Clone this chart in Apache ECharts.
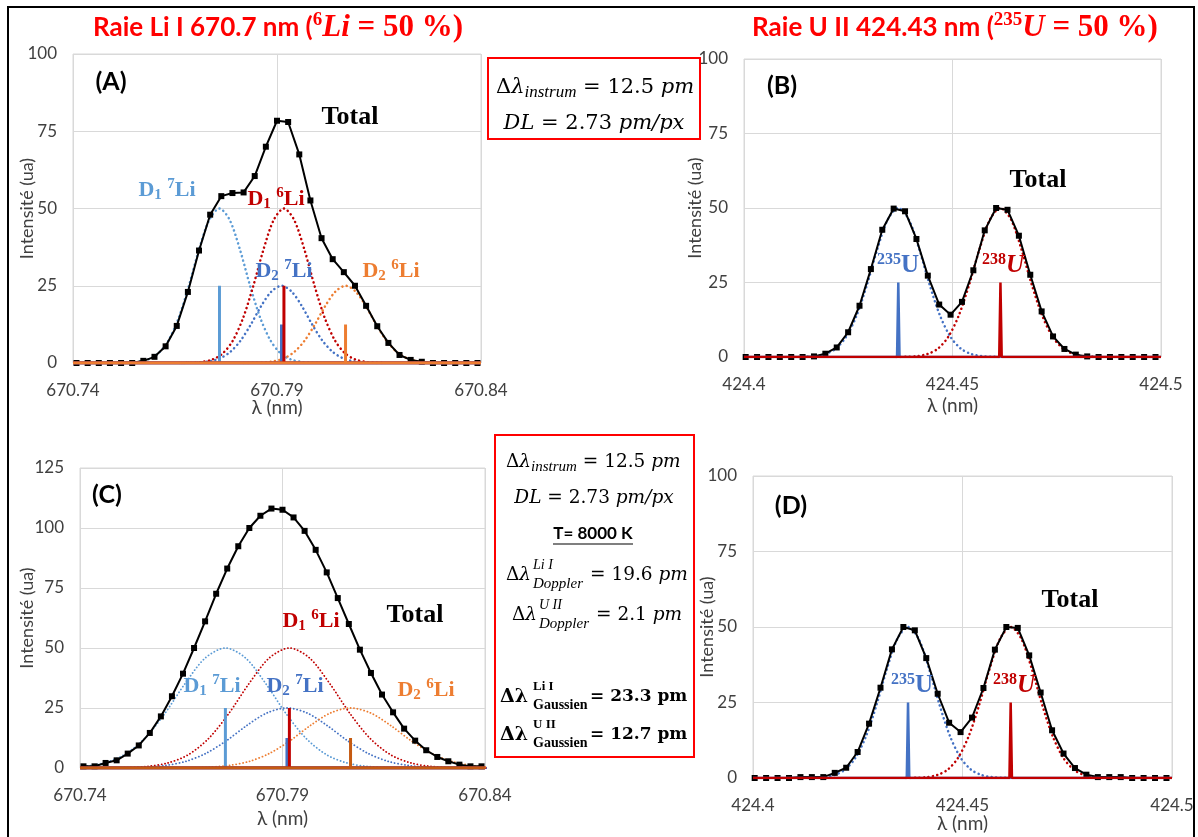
<!DOCTYPE html>
<html><head><meta charset="utf-8">
<script src="https://cdn.jsdelivr.net/npm/echarts@6/dist/echarts.min.js"></script>
<style>html,body{margin:0;padding:0;background:#fff}#c{width:1198px;height:837px}</style>
</head><body><div id="c"></div>
<script>
// ================= DATA =================
const DL_pm = 2.73;              // sampling step of the "Total" curves (pm)
const liStart = 670.74086;       // first sample (nm), Li panels
const uStart = 424.40040;        // first sample (nm), U panels
const liXRange = [670.74, 670.84, 0.05];
const uXRange = [424.4, 424.5, 0.05];
const yRangeA = [0, 100, 25];
const yRangeB = [0, 100, 25];
const yRangeC = [0, 125, 25];
const yRangeD = [0, 100, 25];

// Total (sampled) curves
const totalA = [0,0,0,0,0,0,0.7,2,5.4,12,23,36.4,48,54,55,55.2,60.5,70,78.4,78,67.5,52.6,40.4,33.6,29.4,25,18.5,11.9,6.5,2.6,1,0.4,0,0,0,0,0];
const totalB = [0,0,0,0,0,0,0.2,1.1,3.2,8.3,17.2,29.5,42.7,49.8,48.9,39.6,27.3,17.6,14.2,18.5,29.1,42.5,50,49.4,40.7,27.6,15.3,6.9,2.7,0.8,0.2,0,0,0,0,0,0];
const totalC = [0.7,0.7,2.1,3.2,6,9.4,14.6,21.5,29.9,39.3,50,61.1,72.6,83.1,92.4,100,105.1,108.1,107.6,104.4,98.8,90.9,81.5,70.8,60,49.3,39.6,30.6,23.2,16.4,11.4,7.4,4.6,2.8,1.4,0.7,0.7];
const totalD = [0,0,0,0,0.3,0.3,0.3,1.7,3.4,8.6,18,29.9,42.6,50,48.9,39.7,27.9,18.3,15.2,20,29.8,42.5,50,49.7,40.6,28.3,15.8,8.1,3.3,1.1,0.3,0.3,0.3,0,0,0,0];

// Li components: D1 7Li, D2 7Li, D1 6Li, D2 6Li
const liCenters = [670.7759, 670.7911, 670.7917, 670.8068];
const liSticks = [25, 12.5, 25, 12.5];
// U components: 235U, 238U
const uCenters = [424.4370, 424.4615];
const uSticks = [25, 25];

// component profiles (offset from centre in pm -> intensity)
const offsNarrow = [-25,-22.5,-20,-17.5,-15,-12.5,-10,-7.5,-5,-2.5,0,2.5,5,7.5,10,12.5,15,17.5,20,22.5,25];
const profA50 = [0.03,0.1,0.36,1.15,3.1,7.3,14.6,25,36.8,46.3,50,46.3,36.8,25,14.6,7.3,3.1,1.15,0.36,0.1,0.03];
const profA25 = [0.01,0.05,0.18,0.58,1.56,3.65,7.3,12.5,18.4,23.1,25,23.1,18.4,12.5,7.3,3.65,1.56,0.58,0.18,0.05,0.01];
const profU50 = [0.02,0.08,0.3,1.0,2.8,6.8,13.9,24.3,36.3,46.2,50,46.2,36.3,24.3,13.9,6.8,2.8,1.0,0.3,0.08,0.02];
const offsWide = [-50,-45,-40,-35,-30,-25,-20,-15,-10,-5,0,5,10,15,20,25,30,35,40,45,50];
const profC50 = [0.01,0.04,0.18,0.66,2.1,5.5,12.2,22.6,35.1,45.8,50,45.8,35.1,22.6,12.2,5.5,2.1,0.66,0.18,0.04,0.01];
const profC25 = [0,0.02,0.09,0.33,1.04,2.75,6.1,11.3,17.6,22.9,25,22.9,17.6,11.3,6.1,2.75,1.04,0.33,0.09,0.02,0];

// ================= STYLE =================
const C_LB = '#5B9BD5', C_DB = '#4472C4', C_RED = '#C00000', C_OR = '#ED7D31', C_ORD = '#C55A11';
const TXT = '#404040';

const grids = [
  {left:73, top:54, width:408, height:309},
  {left:744, top:59, width:417, height:298},
  {left:80, top:468, width:405, height:300},
  {left:753, top:476, width:419, height:302}
].map(g => Object.assign(g, {show:true, borderColor:'#D9D9D9', borderWidth:1, backgroundColor:'transparent'}));

function fmt(v){ return String(+v.toFixed(2)); }
function xAx(gi, r, gap){
  return {type:'value', gridIndex:gi, min:r[0], max:r[1], interval:r[2],
    name:'λ (nm)', nameLocation:'middle', nameGap:gap, nameMoveOverlap:false,
    nameTextStyle:{fontFamily:'Lato', fontSize:19, color:TXT},
    axisLine:{show:false}, axisTick:{show:false},
    axisLabel:{margin:19, fontFamily:'Lato', fontSize:17, color:TXT, formatter:fmt, showMinLabel:true, showMaxLabel:true},
    splitLine:{show:true, lineStyle:{color:'#D9D9D9', width:1}}};
}
function yAx(gi, r, gap){
  return {type:'value', gridIndex:gi, min:r[0], max:r[1], interval:r[2],
    name:'Intensité (ua)', nameLocation:'middle', nameGap:gap, nameRotate:90, nameMoveOverlap:false,
    nameTextStyle:{fontFamily:'Lato', fontSize:18, color:TXT},
    axisLine:{show:false}, axisTick:{show:false},
    axisLabel:{margin:16, fontFamily:'Lato', fontSize:17, color:TXT},
    splitLine:{show:true, lineStyle:{color:'#D9D9D9', width:1}}};
}
function gauss(gi, center, offs, prof, color, w, dash){
  return {type:'line', xAxisIndex:gi, yAxisIndex:gi, silent:true, z:2,
    data: offs.map((o,k)=>[center + o/1000, prof[k]]),
    smooth:0.3, symbol:'none', lineStyle:{color:color, width:w, type:dash, cap:'round'}};
}
function total(gi, start, vals){
  return {type:'line', xAxisIndex:gi, yAxisIndex:gi, silent:true, z:3,
    data: vals.map((v,i)=>[start + i*DL_pm/1000, v]),
    symbol:'rect', symbolSize:6, itemStyle:{color:'#000'},
    lineStyle:{color:'#000', width:2}};
}
function stick(gi, r, c, h, color, w, half){
  const d = half ? [[r[0],0],[c-half,0],[c,h],[c+half,0],[r[1],0]] : [[r[0],0],[c,0],[c,h],[c,0],[r[1],0]];
  return {type:'line', xAxisIndex:gi, yAxisIndex:gi, silent:true, z:4, data:d,
    symbol:'none', lineStyle:{color:color, width:w, join:'bevel'}};
}

const dotA = [0.1, 4.4], dotC = [0.1, 3.3];
const liCols = [C_LB, C_DB, C_RED, C_OR];
const liProfA = [profA50, profA25, profA50, profA25];
const liProfC = [profC50, profC25, profC50, profC25];
const uCols = [C_DB, C_RED];

const series = [];
// Panel A
liCenters.forEach((c,k)=>series.push(gauss(0, c, offsNarrow, liProfA[k], liCols[k], 2.5, dotA)));
series.push(total(0, liStart, totalA));
liCenters.forEach((c,k)=>series.push(stick(0, liXRange, c, liSticks[k], liCols[k], 3)));
// Panel B
uCenters.forEach((c,k)=>series.push(gauss(1, c, offsNarrow, profU50, uCols[k], 2.5, dotA)));
series.push(total(1, uStart, totalB));
uCenters.forEach((c,k)=>series.push(stick(1, uXRange, c, uSticks[k], uCols[k], 2.5, 0.0003)));
// Panel C
liCenters.forEach((c,k)=>series.push(gauss(2, c, offsWide, liProfC[k], liCols[k], 1.8, dotC)));
series.push(total(2, liStart, totalC));
const liColsC = [C_LB, C_DB, C_RED, C_ORD];
liCenters.forEach((c,k)=>series.push(stick(2, liXRange, c, liSticks[k], liColsC[k], 3)));
// Panel D
uCenters.forEach((c,k)=>series.push(gauss(3, c, offsNarrow, profU50, uCols[k], 2.5, dotA)));
series.push(total(3, uStart, totalD));
uCenters.forEach((c,k)=>series.push(stick(3, uXRange, c, uSticks[k], uCols[k], 2.5, 0.0003)));

// ================= TEXT / GRAPHICS =================
const SER = 'Liberation Serif', MATH = 'DejaVu Serif';
function liLabel(x, y, color, sub, sup){
  return {type:'text', x:x, y:y, z:100, style:{
    text:'{b|D}{sb|'+sub+'}{b| }{sp|'+sup+'}{b|Li}', fill:color, align:'center', verticalAlign:'middle',
    rich:{
      b:{fontFamily:SER, fontWeight:'bold', fontSize:22, lineHeight:26, fill:color, color:color},
      sb:{fontFamily:SER, fontWeight:'bold', fontSize:15, lineHeight:14, verticalAlign:'bottom', fill:color, color:color},
      sp:{fontFamily:SER, fontWeight:'bold', fontSize:15, lineHeight:14, verticalAlign:'top', fill:color, color:color}
    }}};
}
function uLabel(x, y, color, sup, italic){
  return {type:'text', x:x, y:y, z:100, style:{
    text:'{sp|'+sup+'}{b|U}', fill:color, align:'center', verticalAlign:'middle',
    rich:{
      b:{fontFamily:SER, fontWeight:'bold', fontStyle: italic?'italic':'normal', fontSize:25, lineHeight:28, fill:color, color:color},
      sp:{fontFamily:SER, fontWeight:'bold', fontSize:16, lineHeight:16, verticalAlign:'top', fill:color, color:color}
    }}};
}
function plain(x, y, txt, font, color, align){
  return {type:'text', x:x, y:y, z:100, style:{text:txt, font:font, fill:color||'#000', align:align||'center', verticalAlign:'middle'}};
}
function mathRich(x, y, txt, size, bold, align, subSize){
  const fw = bold ? 'bold' : 'normal';
  return {type:'text', x:x, y:y, z:100, style:{text:txt, fill:'#000', align:align||'left', verticalAlign:'middle',
    rich:{
      u:{fontFamily:MATH, fontWeight:fw, fontSize:size, lineHeight:size+6},
      i:{fontFamily:MATH, fontWeight:fw, fontStyle:bold?'normal':'italic', fontSize:size, lineHeight:size+6},
      sub:{fontFamily:SER, fontStyle:'italic', fontSize:subSize||15, lineHeight:subSize||15, verticalAlign:'bottom'}
    }}};
}
function smallMath(x, y, txt, bold, size){
  return {type:'text', x:x, y:y, z:100, style:{text:txt, fill:'#000', align:'left', verticalAlign:'middle',
    font:(bold?'bold ':'italic ')+(size||14)+'px "'+SER+'"'}};
}
function titleRich(x, y, pre, sup, it){
  const R = '#FF0000';
  return {type:'text', x:x, y:y, z:100, style:{
    text:'{s|'+pre+'}{sp|'+sup+'}{mi|'+it+'}{m| = 50 %)}', fill:R, align:'center', verticalAlign:'middle',
    rich:{
      s:{fontFamily:'Lato', fontWeight:'bold', fontSize:26, lineHeight:34, fill:R, color:R},
      sp:{fontFamily:SER, fontWeight:'bold', fontSize:19, lineHeight:18, verticalAlign:'top', fill:R, color:R},
      mi:{fontFamily:SER, fontWeight:'bold', fontStyle:'italic', fontSize:31, lineHeight:34, fill:R, color:R},
      m:{fontFamily:SER, fontWeight:'bold', fontSize:31, lineHeight:34, fill:R, color:R}
    }}};
}

const graphics = [
  {type:'rect', shape:{x:8, y:7, width:1186, height:840}, style:{fill:'none', stroke:'#000', lineWidth:2}, z:0},
  titleRich(278, 28, 'Raie Li I 670.7 nm (', '6', 'Li'),
  titleRich(955, 28, 'Raie U II 424.43 nm (', '235', 'U'),
  plain(111, 82, '(A)', 'bold 25px Lato'),
  plain(782, 86, '(B)', 'bold 25px Lato'),
  plain(107, 495, '(C)', 'bold 25px Lato'),
  plain(791, 506, '(D)', 'bold 25px Lato'),
  plain(350, 117, 'Total', 'bold 26px "Liberation Serif"'),
  plain(1038, 180, 'Total', 'bold 26px "Liberation Serif"'),
  plain(415, 615, 'Total', 'bold 26px "Liberation Serif"'),
  plain(1070, 600, 'Total', 'bold 26px "Liberation Serif"'),
  liLabel(167, 190, C_LB, '1', '7'),
  liLabel(276, 199, C_RED, '1', '6'),
  liLabel(284, 271, C_DB, '2', '7'),
  liLabel(391, 271, C_OR, '2', '6'),
  liLabel(212, 686, C_LB, '1', '7'),
  liLabel(295, 686, C_DB, '2', '7'),
  liLabel(311, 621, C_RED, '1', '6'),
  liLabel(426, 690, C_OR, '2', '6'),
  uLabel(898, 266, C_DB, '235', false),
  uLabel(1003, 266, C_RED, '238', true),
  uLabel(912, 686, C_DB, '235', false),
  uLabel(1014, 686, C_RED, '238', true),
  // box 1
  {type:'rect', shape:{x:488, y:58, width:212, height:81}, style:{fill:'#fff', stroke:'#FF0000', lineWidth:2}, z:50},
  mathRich(496, 88, '{u|Δ}{i|λ}{sub|instrum}{u| = 12.5 }{i|pm}', 21, false, 'left', 17),
  mathRich(594, 124, '{i|DL}{u| = 2.73 }{i|pm/px}', 21, false, 'center'),
  // box 2
  {type:'rect', shape:{x:495, y:435, width:199, height:322}, style:{fill:'#fff', stroke:'#FF0000', lineWidth:2}, z:50},
  mathRich(506, 462, '{u|Δ}{i|λ}{sub|instrum}{u| = 12.5 }{i|pm}', 18.5, false, 'left', 15),
  mathRich(594, 498, '{i|DL}{u| = 2.73 }{i|pm/px}', 18.5, false, 'center'),
  plain(593, 534, 'T= 8000 K', 'bold 17px Lato'),
  {type:'line', shape:{x1:553, y1:544, x2:633, y2:544}, style:{stroke:'#000', lineWidth:1.2}, z:100},
  mathRich(506, 575, '{u|Δ}{i|λ}', 18.5, false, 'left'),
  smallMath(533, 565, 'Li I', false, 14),
  smallMath(533, 584, 'Doppler', false, 15),
  mathRich(590, 575, '{u|= 19.6 }{i|pm}', 18.5, false, 'left'),
  mathRich(512, 615, '{u|Δ}{i|λ}', 18.5, false, 'left'),
  smallMath(539, 605, 'U II', false, 14),
  smallMath(539, 624, 'Doppler', false, 15),
  mathRich(596, 615, '{u|= 2.1 }{i|pm}', 18.5, false, 'left'),
  mathRich(500, 697, '{u|Δλ}', 19, true, 'left'),
  smallMath(533, 687, 'Li I', true, 13),
  smallMath(533, 705, 'Gaussien', true, 14),
  mathRich(590, 697, '{u|= 23.3 pm}', 17, true, 'left'),
  mathRich(500, 735, '{u|Δλ}', 19, true, 'left'),
  smallMath(533, 725, 'U II', true, 13),
  smallMath(533, 743, 'Gaussien', true, 14),
  mathRich(590, 735, '{u|= 12.7 pm}', 17, true, 'left')
];

const chart = echarts.init(document.getElementById('c'), null, {renderer:'canvas'});
chart.setOption({
  backgroundColor:'#fff',
  animation:false,
  grid: grids,
  xAxis: [xAx(0, liXRange, 35), xAx(1, uXRange, 39), xAx(2, liXRange, 41), xAx(3, uXRange, 36)],
  yAxis: [yAx(0, yRangeA, 37), yAx(1, yRangeB, 40), yAx(2, yRangeC, 44), yAx(3, yRangeD, 37)],
  series: series,
  graphic: graphics
});
</script></body></html>
